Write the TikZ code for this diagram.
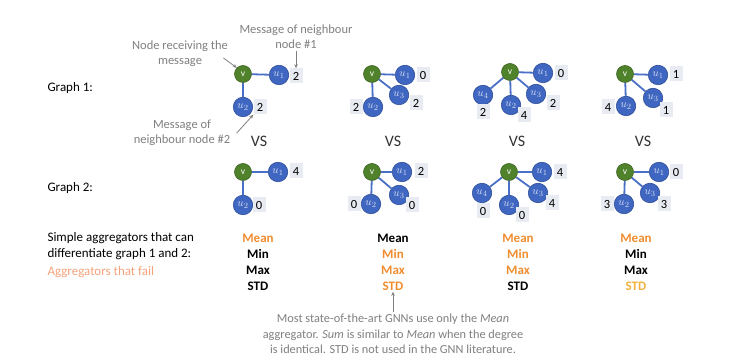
\documentclass[tikz,border=0pt]{standalone}
\usepackage{fontspec}
\setmainfont{Carlito}
\usetikzlibrary{arrows.meta}
\definecolor{nblue}{HTML}{3F66C0}
\definecolor{nblueD}{HTML}{2E4E98}
\definecolor{ngreen}{HTML}{4F822B}
\definecolor{ngreenD}{HTML}{3B6220}
\definecolor{eblue}{HTML}{4A6FC6}
\definecolor{aorange}{HTML}{F08C2E}
\definecolor{afail}{HTML}{F2A27A}
\definecolor{ayellow}{HTML}{F2B13A}
\definecolor{annot}{HTML}{7F7F7F}
\definecolor{numbg}{HTML}{E8EBF1}
\tikzset{
  vnode/.style={circle, fill=ngreen, draw=ngreenD, line width=0.6pt, minimum size=17pt, inner sep=0pt, text=white, font=\fontsize{9.5}{9.5}\selectfont},
  unode/.style={circle, fill=nblue, draw=nblueD, line width=0.6pt, minimum size=19.5pt, inner sep=0pt, text=white!80!nblue, font=\fontsize{11}{11}\selectfont},
  num/.style={fill=numbg, inner sep=1pt, minimum width=13pt, minimum height=15pt, font=\fontsize{12.5}{12.5}\selectfont},
  edgeline/.style={eblue, line width=1.8pt},
  vslabel/.style={font=\fontsize{16}{16}\selectfont, text=black!80},
  leftlab/.style={anchor=west, align=left, font=\fontsize{13}{16}\selectfont},
  agg/.style={font=\bfseries\fontsize{13}{13}\selectfont},
  annottext/.style={text=annot, align=center, font=\fontsize{12.5}{15}\selectfont},
  notetext/.style={text=annot, align=center, font=\fontsize{12.3}{15.5}\selectfont},
  annarrow/.style={annot, line width=0.8pt, -{Stealth[length=4pt,width=3.5pt]}}
}
\begin{document}
\begin{tikzpicture}[x=1pt,y=-1pt]
\useasboundingbox (0,0) rectangle (733,363);

% ---------- Graph 1 ----------
% column 1
\node[vnode] (a1v) at (243,74) {v};
\node[unode] (a1u1) at (279,75) {$u_1$};
\node[unode] (a1u2) at (243,107) {$u_2$};
\node[num] (a1n1) at (296,76) {2};
\node[num] (a1n2) at (260,107) {2};
\draw[edgeline] (a1v) -- (a1u1);
\draw[edgeline] (a1v) -- (a1u2);
% column 2
\node[vnode] (a2v) at (372,74) {v};
\node[unode] (a2u1) at (405,75) {$u_1$};
\node[unode] (a2u3) at (399,95) {$u_3$};
\node[unode] (a2u2) at (373,107) {$u_2$};
\node[num] (a2n1) at (423,75) {0};
\node[num] (a2n3) at (416,103) {2};
\node[num] (a2n2) at (356,107) {2};
\draw[edgeline] (a2v) -- (a2u1);
\draw[edgeline] (a2v) -- (a2u3);
\draw[edgeline] (a2v) -- (a2u2);
% column 3
\node[vnode] (a3v) at (510,72) {v};
\node[unode] (a3u1) at (543,73) {$u_1$};
\node[unode] (a3u3) at (536,94) {$u_3$};
\node[unode] (a3u2) at (511,105) {$u_2$};
\node[unode] (a3u4) at (483,95) {$u_4$};
\node[num] (a3n1) at (561,73) {0};
\node[num] (a3n3) at (553,103) {2};
\node[num] (a3n2) at (524,115) {4};
\node[num] (a3n4) at (483,112) {2};
\draw[edgeline] (a3v) -- (a3u1);
\draw[edgeline] (a3v) -- (a3u3);
\draw[edgeline] (a3v) -- (a3u2);
\draw[edgeline] (a3v) -- (a3u4);
% column 4
\node[vnode] (a4v) at (625,74) {v};
\node[unode] (a4u1) at (658,75) {$u_1$};
\node[unode] (a4u3) at (653,98) {$u_3$};
\node[unode] (a4u2) at (626,106) {$u_2$};
\node[num] (a4n1) at (676,74) {1};
\node[num] (a4n3) at (666,110) {1};
\node[num] (a4n2) at (608,107) {4};
\draw[edgeline] (a4v) -- (a4u1);
\draw[edgeline] (a4v) -- (a4u3);
\draw[edgeline] (a4v) -- (a4u2);

% ---------- VS ----------
\node[vslabel] (vs1) at (259,141) {VS};
\node[vslabel] (vs2) at (393,141) {VS};
\node[vslabel] (vs3) at (517,141) {VS};
\node[vslabel] (vs4) at (643,141) {VS};

% ---------- Graph 2 ----------
% column 1
\node[vnode] (b1v) at (243,172) {v};
\node[unode] (b1u1) at (278,172) {$u_1$};
\node[unode] (b1u2) at (243,205) {$u_2$};
\node[num] (b1n1) at (296,171) {4};
\node[num] (b1n2) at (259,205) {0};
\draw[edgeline] (b1v) -- (b1u1);
\draw[edgeline] (b1v) -- (b1u2);
% column 2
\node[vnode] (b2v) at (372,172) {v};
\node[unode] (b2u1) at (402,172) {$u_1$};
\node[unode] (b2u3) at (399,195) {$u_3$};
\node[unode] (b2u2) at (371,204) {$u_2$};
\node[num] (b2n1) at (421,171) {2};
\node[num] (b2n3) at (412,205) {0};
\node[num] (b2n2) at (354,204) {0};
\draw[edgeline] (b2v) -- (b2u1);
\draw[edgeline] (b2v) -- (b2u3);
\draw[edgeline] (b2v) -- (b2u2);
% column 3
\node[vnode] (b3v) at (509,172) {v};
\node[unode] (b3u1) at (542,172) {$u_1$};
\node[unode] (b3u3) at (538,193) {$u_3$};
\node[unode] (b3u2) at (509,205) {$u_2$};
\node[unode] (b3u4) at (482,193) {$u_4$};
\node[num] (b3n1) at (560,172) {4};
\node[num] (b3n3) at (552,203) {4};
\node[num] (b3n2) at (522,215) {0};
\node[num] (b3n4) at (483,211) {0};
\draw[edgeline] (b3v) -- (b3u1);
\draw[edgeline] (b3v) -- (b3u3);
\draw[edgeline] (b3v) -- (b3u2);
\draw[edgeline] (b3v) -- (b3u4);
% column 4
\node[vnode] (b4v) at (625,172) {v};
\node[unode] (b4u1) at (659,172) {$u_1$};
\node[unode] (b4u3) at (650,193) {$u_3$};
\node[unode] (b4u2) at (624,204) {$u_2$};
\node[num] (b4n1) at (676,172) {0};
\node[num] (b4n3) at (664,204) {3};
\node[num] (b4n2) at (607,204) {3};
\draw[edgeline] (b4v) -- (b4u1);
\draw[edgeline] (b4v) -- (b4u3);
\draw[edgeline] (b4v) -- (b4u2);

% ---------- left labels ----------
\node[leftlab] (g1lab) at (44,88) {Graph 1:};
\node[leftlab] (g2lab) at (44,188) {Graph 2:};
\node[leftlab] (simple) at (44,246) {Simple aggregators that can\\differentiate graph 1 and 2:};
\node[leftlab, text=afail] (fail) at (44,272) {Aggregators that fail};

% ---------- aggregator columns ----------
\node[agg, text=aorange] (c1mean) at (258,238) {Mean};
\node[agg] (c1min) at (258,254) {Min};
\node[agg] (c1max) at (258,270) {Max};
\node[agg] (c1std) at (258,286) {STD};

\node[agg] (c2mean) at (393,238) {Mean};
\node[agg, text=aorange] (c2min) at (393,254) {Min};
\node[agg, text=aorange] (c2max) at (393,270) {Max};
\node[agg, text=aorange] (c2std) at (393,286) {STD};

\node[agg, text=aorange] (c3mean) at (518,238) {Mean};
\node[agg, text=aorange] (c3min) at (518,254) {Min};
\node[agg, text=aorange] (c3max) at (518,270) {Max};
\node[agg] (c3std) at (518,286) {STD};

\node[agg, text=aorange] (c4mean) at (636,238) {Mean};
\node[agg] (c4min) at (636,254) {Min};
\node[agg] (c4max) at (636,270) {Max};
\node[agg, text=ayellow] (c4std) at (636,286) {STD};

% ---------- annotations ----------
\node[annottext] (t1) at (296,37) {Message of neighbour\\node \#1};
\node[annottext] (t2) at (180,54) {Node receiving the\\message};
\node[annottext] (t3) at (182,133) {Message of\\neighbour node \#2};
\draw[annarrow] ([yshift=1pt]t1.south) -- (a1n1.north);
\draw[annarrow] ([xshift=-8pt,yshift=-4pt]t2.east) -- (a1v.north west);
\draw[annarrow] ([xshift=3pt,yshift=0pt]t3.east) -- (a1n2.south west);

\node[notetext] (note) at (393,334) {Most state-of-the-art GNNs use only the \textit{Mean}\\aggregator. \textit{Sum} is similar to \textit{Mean} when the degree\\is identical. STD is not used in the GNN literature.};
\draw[annarrow] ([yshift=-1pt]note.north) -- ([yshift=2pt]c2std.south);
\end{tikzpicture}
\end{document}
